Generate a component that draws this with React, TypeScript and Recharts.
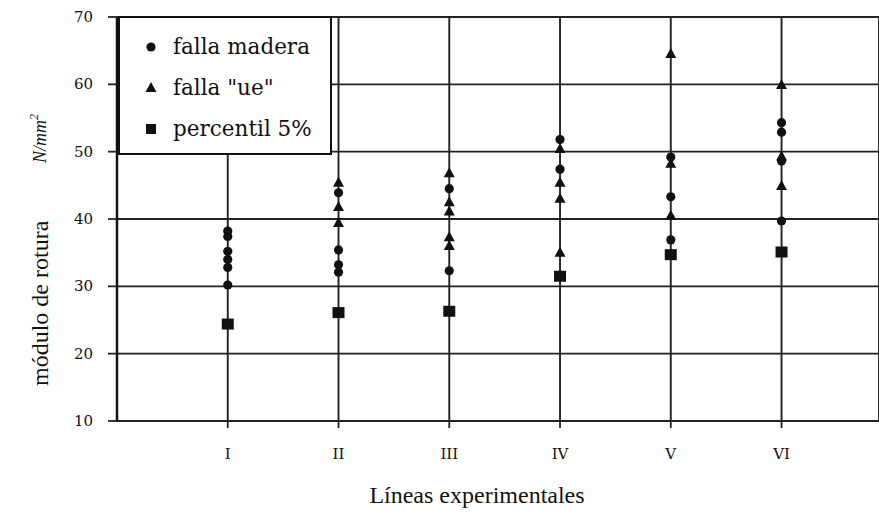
import { CartesianGrid, Legend, Scatter, ScatterChart, XAxis, YAxis } from 'recharts';

const lineas = ['I', 'II', 'III', 'IV', 'V', 'VI'];

// rupture modulus per experimental line (N/mm²)
const fallaMadera = [
    [38.2, 37.4, 35.2, 34.0, 32.8, 30.2],
    [43.9, 35.4, 33.2, 32.1],
    [44.5, 32.3],
    [51.8, 47.4],
    [49.2, 43.3, 36.9],
    [54.3, 52.9, 48.6, 39.7],
];
const fallaUe = [
    [],
    [45.4, 41.8, 39.4],
    [46.8, 42.5, 41.1, 37.3, 36.0],
    [50.4, 45.4, 43.0, 35.0],
    [64.5, 48.2, 40.5],
    [59.9, 49.3, 44.9],
];
const percentil5 = [24.4, 26.1, 26.3, 31.5, 34.7, 35.1];

const yTicks = [10, 20, 30, 40, 50, 60, 70];

const toPoints = (rows: number[][]) =>
    rows.flatMap((vals, i) => vals.map((v) => ({ x: i + 1, y: v })));

const maderaData = toPoints(fallaMadera);
const ueData = toPoints(fallaUe);
const percentilData = percentil5.map((v, i) => ({ x: i + 1, y: v }));

const INK = '#111';
const SERIF = '"Liberation Serif", serif';
const WIDE_SERIF = '"DejaVu Serif", serif';

const Dot = (props: any) => <circle cx={props.cx} cy={props.cy} r={4.6} fill={INK} />;
const Tri = (props: any) => {
    const { cx, cy } = props;
    return <path d={`M${cx},${cy - 6} L${cx + 5.5},${cy + 4} L${cx - 5.5},${cy + 4} Z`} fill={INK} />;
};
const Sq = (props: any) => <rect x={props.cx - 6} y={props.cy - 5.5} width={12} height={11} fill={INK} />;

const YTick = (props: any) => (
    <text x={props.x - 13} y={props.y + 5} textAnchor="end" fontFamily={WIDE_SERIF} fontSize={15} fill={INK}>
        {props.payload.value}
    </text>
);

const XTick = (props: any) => (
    <text x={props.x} y={props.y + 29} textAnchor="middle" fontFamily={WIDE_SERIF} fontSize={15} fill={INK}>
        {lineas[props.payload.value - 1]}
    </text>
);

function LegendBox() {
    const rows = [
        { label: 'falla madera', mark: <circle cx={10} cy={10} r={4.6} fill={INK} /> },
        { label: 'falla "ue"', mark: <path d="M10,4 L15.5,14 L4.5,14 Z" fill={INK} /> },
        { label: 'percentil 5%', mark: <rect x={5} y={5} width={10} height={10} fill={INK} /> },
    ];
    return (
        <div
            style={{
                width: 214,
                height: 139,
                border: `2px solid ${INK}`,
                background: '#fff',
                fontFamily: WIDE_SERIF,
                fontSize: 21.5,
                color: INK,
                paddingTop: 8,
                boxSizing: 'border-box',
                textAlign: 'left',
            }}
        >
            {rows.map((r) => (
                <div key={r.label} style={{ display: 'flex', alignItems: 'center', height: 41, paddingLeft: 21 }}>
                    <svg width={20} height={20}>{r.mark}</svg>
                    <span style={{ marginLeft: 12 }}>{r.label}</span>
                </div>
            ))}
        </div>
    );
}

function YTitle() {
    return (
        <g fontFamily={SERIF} fill={INK}>
            <text transform="translate(48, 386) rotate(-90)" fontSize={24}>
                módulo de rotura
            </text>
            <text transform="translate(46, 163) rotate(-90)" fontSize={18} fontStyle="italic">
                N/mm
                <tspan fontSize={12} dy={-8}>2</tspan>
            </text>
        </g>
    );
}

function XTitle() {
    return (
        <text x={477} y={503} textAnchor="middle" fontFamily={SERIF} fill={INK} fontSize={24}>
            Líneas experimentales
        </text>
    );
}

export default function App() {
    return (
        <div style={{ position: 'absolute', left: 0, top: 0, width: 879, height: 522, overflow: 'hidden', background: '#fff' }}>
            <ScatterChart width={879} height={522} margin={{ top: 17, right: 0, bottom: 0, left: 0 }}>
                <CartesianGrid stroke="#222" strokeWidth={1.9} />
                <XAxis
                    type="number"
                    dataKey="x"
                    domain={[0, 6.88]}
                    ticks={[1, 2, 3, 4, 5, 6]}
                    axisLine={{ stroke: '#222', strokeWidth: 2 }}
                    tickLine={{ stroke: '#222', strokeWidth: 1.8 }}
                    tickSize={7}
                    tick={<XTick />}
                    allowDataOverflow
                    height={101}
                    label={<XTitle />}
                />
                <YAxis
                    type="number"
                    dataKey="y"
                    domain={[10, 70]}
                    ticks={yTicks}
                    width={117}
                    axisLine={{ stroke: '#111', strokeWidth: 2.5 }}
                    tickLine={{ stroke: '#222', strokeWidth: 1.8 }}
                    tickSize={9}
                    tick={<YTick />}
                    label={<YTitle />}
                />
                <Legend
                    layout="horizontal"
                    verticalAlign="middle"
                    align="center"
                    content={() => <LegendBox />}
                    wrapperStyle={{ position: 'absolute', left: 118, top: 16, width: 214 }}
                />
                <Scatter name="falla madera" data={maderaData} shape={<Dot />} isAnimationActive={false} />
                <Scatter name='falla "ue"' data={ueData} shape={<Tri />} isAnimationActive={false} />
                <Scatter name="percentil 5%" data={percentilData} shape={<Sq />} isAnimationActive={false} />
            </ScatterChart>
        </div>
    );
}
